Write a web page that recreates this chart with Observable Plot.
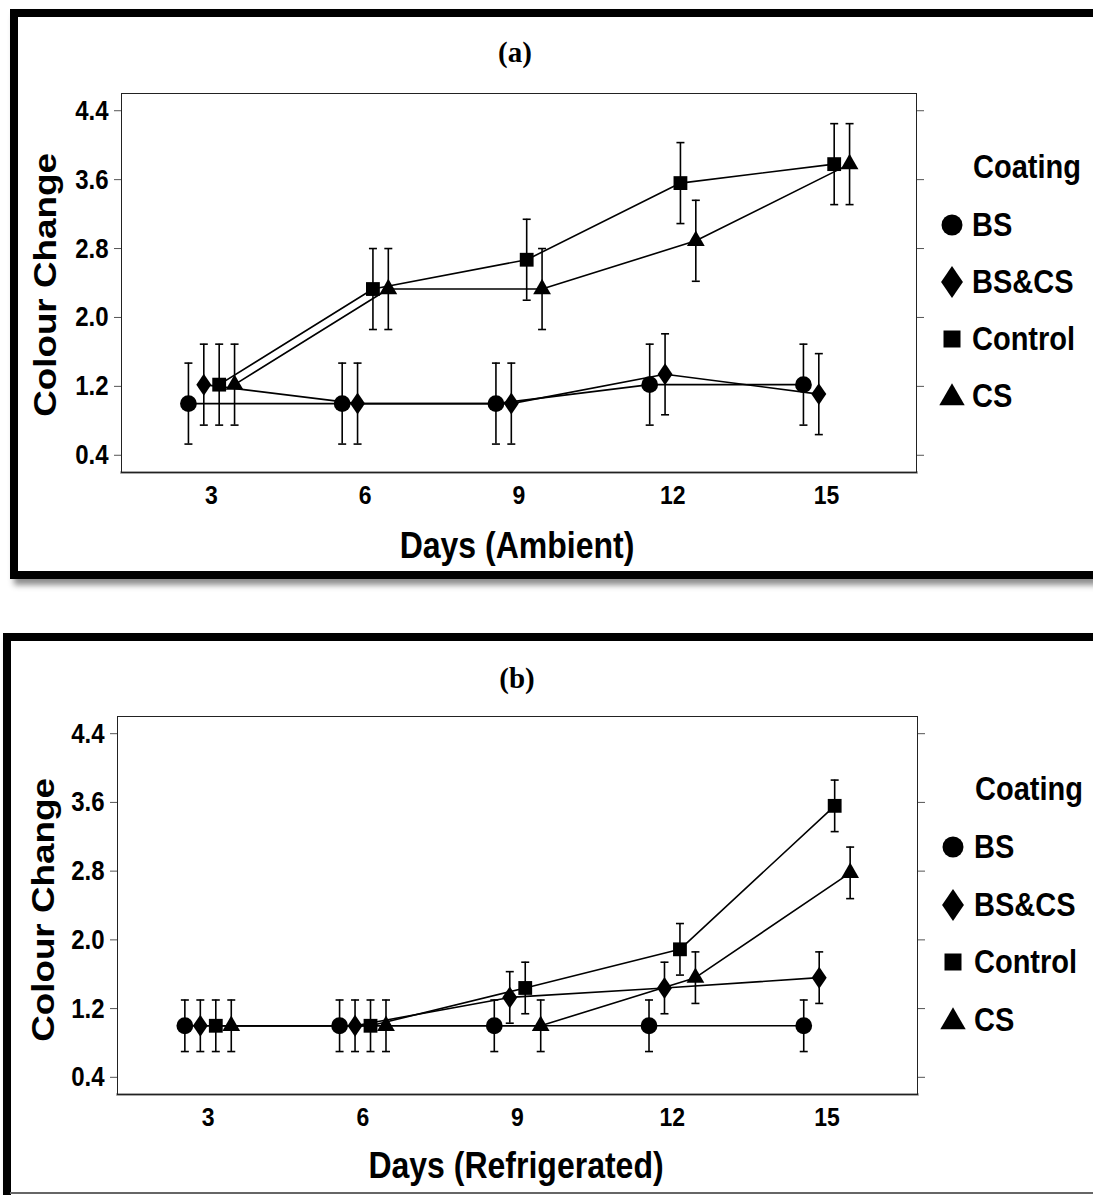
<!DOCTYPE html>
<html><head><meta charset="utf-8">
<script src="https://cdn.jsdelivr.net/npm/d3@7"></script>
<script src="https://cdn.jsdelivr.net/npm/@observablehq/plot@0.6"></script>
<style>
html,body{margin:0;padding:0;background:#fff;}
body{width:1093px;height:1195px;position:relative;overflow:hidden;font-family:"Liberation Sans",Arial,sans-serif;}
.frame{position:absolute;box-sizing:border-box;border:8px solid #000;background:#fff;box-shadow:4px 6px 6px rgba(0,0,0,0.45);}
.chart{position:absolute;}
.lbl{position:absolute;font-weight:bold;white-space:nowrap;color:#000;line-height:1;}
.ttl{position:absolute;font-family:"Liberation Serif","Times New Roman",serif;font-weight:bold;font-size:29px;line-height:1;transform:translate(-50%,-50%);white-space:nowrap;}
.sym{position:absolute;}
</style></head>
<body>
<div class="frame" style="left:10px;top:9px;width:1100px;height:570px"></div>
<div class="frame" style="left:3px;top:633px;width:1100px;height:580px;"></div>
<div style="position:absolute;left:10px;top:1192px;width:1090px;height:2px;background:#666"></div>
<div id="root"></div>
<script>
// ---------- data ----------
const days = [3, 6, 9, 12, 15];
const coatings = ["BS", "BS&CS", "Control", "CS"];
const yTicks = [0.4, 1.2, 2.0, 2.8, 3.6, 4.4];

// Panel (a): ambient storage, mean colour change
const ambientBS      = [1.00, 1.00, 1.00, 1.22, 1.22];
const ambientBSCS    = [1.22, 1.00, 1.00, 1.34, 1.11];
const ambientControl = [1.22, 2.33, 2.67, 3.56, 3.78];
const ambientCS      = [1.22, 2.33, 2.33, 2.89, 3.78];
const ambientHalfCI  = 0.47;

// Panel (b): refrigerated storage
const refrigBS      = [1.00, 1.00, 1.00, 1.00, 1.00];
const refrigBSCS    = [1.00, 1.00, 1.33, 1.44, 1.56];
const refrigControl = [1.00, 1.00, 1.44, 1.89, 3.56];
const refrigCS      = [1.00, 1.00, 1.00, 1.56, 2.78];
const refrigHalfCI  = 0.30;

// ---------- styling ----------
const dodge = [-0.45, -0.15, 0.15, 0.45]; // group offset in days
const wideDiamond = {draw(ctx, size) {
  const r = Math.sqrt(size / Math.PI), hh = r * 1.57, hw = r * 1.07;
  ctx.moveTo(0, -hh); ctx.lineTo(hw, 0); ctx.lineTo(0, hh); ctx.lineTo(-hw, 0); ctx.closePath();
}};
const symbolOf = {"BS": "circle", "BS&CS": wideDiamond, "Control": "square", "CS": "triangle"};
const rOf = {"BS": 8.4, "BS&CS": 7, "Control": 7.8, "CS": 6.6};
const STRETCH = 1.15;

function rows(series, half) {
  const out = [];
  series.forEach((vals, s) => vals.forEach((v, i) => out.push({
    coating: coatings[s], day: days[i], x: days[i] + dodge[s], y: v, lo: v - half, hi: v + half
  })));
  return out;
}

const capSymbol = {draw(ctx) { ctx.moveTo(-4, 0); ctx.lineTo(4, 0); }};

function makePlot(data, o) {
  const marks = [
    Plot.frame({anchor: "bottom", stroke: "#8a8a8a", strokeWidth: 2.5}),
    Plot.frame({stroke: "#222", strokeWidth: 1}),
    Plot.axisY({ticks: yTicks, tickFormat: d3.format(".1f"), tickSize: 7, tickPadding: 6, fontSize: 24, stroke: "#555", label: null}),
    Plot.axisY({anchor: "right", ticks: yTicks, tickSize: 7, tickFormat: () => "", stroke: "#555", label: null}),
    Plot.axisX({ticks: days, tickSize: 0, tickPadding: 14, fontSize: 23, label: null}),
    Plot.line(data, {x: "x", y: "y", z: "coating", stroke: "#000", strokeWidth: 1.6}),
    Plot.ruleX(data, {x: "x", y1: "lo", y2: "hi", stroke: "#000", strokeWidth: 1.6}),
    Plot.dot(data, {x: "x", y: "lo", symbol: capSymbol, stroke: "#000", strokeWidth: 1.6, fill: "none"}),
    Plot.dot(data, {x: "x", y: "hi", symbol: capSymbol, stroke: "#000", strokeWidth: 1.6, fill: "none"}),
    ...coatings.map(c => Plot.dot(data.filter(d => d.coating === c), {
      x: "x", y: "y", symbol: symbolOf[c], r: rOf[c], fill: "#000", stroke: "none"
    }))
  ];
  return Plot.plot({
    width: o.W, height: o.H,
    marginLeft: o.mL, marginRight: o.mR, marginTop: o.mT, marginBottom: o.mB,
    x: {domain: [1.244, 16.756]},
    y: {domain: [0.2, 4.6]},
    style: {background: "transparent", fontFamily: "'Liberation Sans', Arial, sans-serif", fontWeight: "bold", color: "#000", overflow: "visible"},
    marks
  });
}

function stretchTexts(svg) {
  svg.querySelectorAll("text").forEach(t => {
    const b = t.getBBox();
    const cy = b.y + b.height / 2;
    const tr = t.getAttribute("transform") || "";
    t.setAttribute("transform", `${tr} translate(0,${cy}) scale(1,${STRETCH}) translate(0,${-cy})`);
  });
}

function addDiv(cls, text, css) {
  const d = document.createElement("div");
  d.className = cls;
  d.textContent = text;
  Object.assign(d.style, css);
  document.body.appendChild(d);
  return d;
}

function legendSymbol(c, cx, cy) {
  const ns = "http://www.w3.org/2000/svg";
  const svg = document.createElementNS(ns, "svg");
  svg.setAttribute("width", 40); svg.setAttribute("height", 40);
  svg.setAttribute("class", "sym");
  svg.style.left = (cx - 20) + "px"; svg.style.top = (cy - 20) + "px";
  const p = document.createElementNS(ns, "path");
  const spec = {
    "BS": [d3.symbolCircle, Math.PI * 110],
    "BS&CS": [wideDiamond, Math.PI * 104],
    "Control": [d3.symbolSquare, 289],
    "CS": [d3.symbolTriangle, 280]
  }[c];
  p.setAttribute("d", d3.symbol(spec[0], spec[1])());
  p.setAttribute("transform", c === "CS" ? "translate(20,22)" : "translate(20,20)");
  p.setAttribute("fill", "#000");
  svg.appendChild(p);
  document.body.appendChild(svg);
}

function panel(cfg) {
  const data = rows(cfg.series, cfg.half);
  const chart = makePlot(data, cfg.plot);
  const holder = document.createElement("div");
  holder.className = "chart";
  holder.style.left = cfg.left + "px";
  holder.style.top = cfg.top + "px";
  holder.appendChild(chart);
  document.body.appendChild(holder);
  stretchTexts(chart);

  addDiv("ttl", cfg.title, {left: cfg.titleX + "px", top: cfg.titleY + "px"});
  addDiv("lbl", cfg.xTitle, {left: cfg.xTitleX + "px", top: cfg.xTitleY + "px", fontSize: "32px",
    transform: `translate(-50%,-50%) scaleY(${STRETCH})`});
  addDiv("lbl", "Colour Change", {left: cfg.yTitleX + "px", top: cfg.yTitleY + "px", fontSize: "32px",
    transform: `translate(-50%,-50%) rotate(-90deg) scaleX(${STRETCH})`});
  addDiv("lbl", "Coating", {left: cfg.legX + "px", top: cfg.legY + "px", fontSize: "29px",
    transform: `translateY(-50%) scaleY(${STRETCH})`});
  coatings.forEach((c, i) => {
    const y = cfg.legY + cfg.legStart + i * cfg.legStep;
    legendSymbol(c, cfg.symX, y);
    addDiv("lbl", c, {left: cfg.legTextX + "px", top: y + "px", fontSize: "29px",
      transform: `translateY(-50%) scaleY(${STRETCH})`});
  });
}

panel({
  series: [ambientBS, ambientBSCS, ambientControl, ambientCS], half: ambientHalfCI,
  left: 0, top: 0,
  plot: {W: 960, H: 540, mL: 121, mR: 44, mT: 93, mB: 68},
  title: "(a)", titleX: 515, titleY: 52,
  xTitle: "Days (Ambient)", xTitleX: 517, xTitleY: 545,
  yTitleX: 45, yTitleY: 285,
  legX: 973, legY: 167, legStart: 58, legStep: 57, symX: 952, legTextX: 972
});

panel({
  series: [refrigBS, refrigBSCS, refrigControl, refrigCS], half: refrigHalfCI,
  left: 0, top: 623,
  plot: {W: 960, H: 540, mL: 117, mR: 43, mT: 93, mB: 69},
  title: "(b)", titleX: 517, titleY: 678,
  xTitle: "Days (Refrigerated)", xTitleX: 516, xTitleY: 1165,
  yTitleX: 43, yTitleY: 910,
  legX: 975, legY: 789, legStart: 58, legStep: 57.5, symX: 953, legTextX: 974
});
</script>
</body></html>
